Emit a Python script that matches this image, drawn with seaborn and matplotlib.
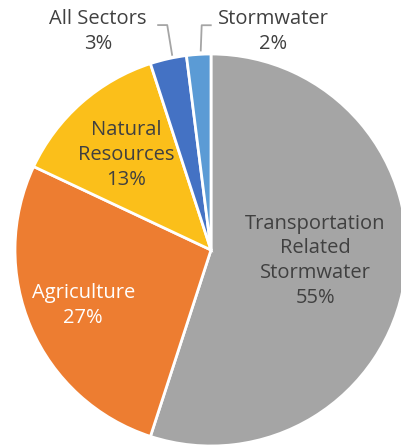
import numpy as np
import seaborn as sns
import matplotlib.pyplot as plt

sectors = ["Transportation\nRelated\nStormwater", "Agriculture", "Natural\nResources",
           "All Sectors", "Stormwater"]
shares = [55, 27, 13, 3, 2]
colors = ["#A5A5A5", "#ED7D31", "#FBBF1A", "#4472C4", "#5B9BD5"]
text_colors = ["#404040", "white", "#404040", "#404040", "#404040"]

sns.set_theme(style="white")
plt.rcParams['font.family'] = ['Open Sans', 'DejaVu Sans']

fig = plt.figure(figsize=(4.01, 4.48), dpi=100)
ax = fig.add_axes([0, 0, 1, 1])

cx, cy, r = 211, 198, 196
wedges, _ = ax.pie(shares, colors=colors, startangle=90, counterclock=False,
                   center=(cx, cy), radius=r, frame=True,
                   wedgeprops=dict(edgecolor='white', linewidth=2))
ax.set_xlim(0, 401)
ax.set_ylim(0, 448)
ax.set_aspect('equal')
ax.axis('off')

# label distance (in radius units) and angle shift for each slice
label_pos = [(0.535, 3), (0.71, 0), (0.65, 0.5), (1.257, 14.7), (1.16, -19.4)]

for w, lab, share, tc, (d, shift) in zip(wedges, sectors, shares, text_colors, label_pos):
    mid = np.deg2rad((w.theta1 + w.theta2) / 2 + shift)
    tx, ty = cx + d * r * np.cos(mid), cy + d * r * np.sin(mid)
    ax.text(tx, ty, f"{lab}\n{share}%", ha='center', va='center', color=tc,
            fontsize=14.5, linespacing=1.33)

# leader lines for the two small slices
for i, side in [(3, 1), (4, -1)]:
    w = wedges[i]
    mid = np.deg2rad((w.theta1 + w.theta2) / 2)
    ex, ey = cx + r * np.cos(mid), cy + r * np.sin(mid)
    d, shift = label_pos[i]
    lmid = np.deg2rad((w.theta1 + w.theta2) / 2 + shift)
    ly = cy + d * r * np.sin(lmid) + 6
    if side == 1:
        pts_x = [ex - 11, ex - 1, ex + 4]
    else:
        pts_x = [ex + 13, ex + 3, ex + 2]
    ax.plot(pts_x, [ly, ly, ey + 3], color='#A5A5A5', lw=1.3, solid_capstyle='butt')

fig.savefig("out.png", dpi=100)
